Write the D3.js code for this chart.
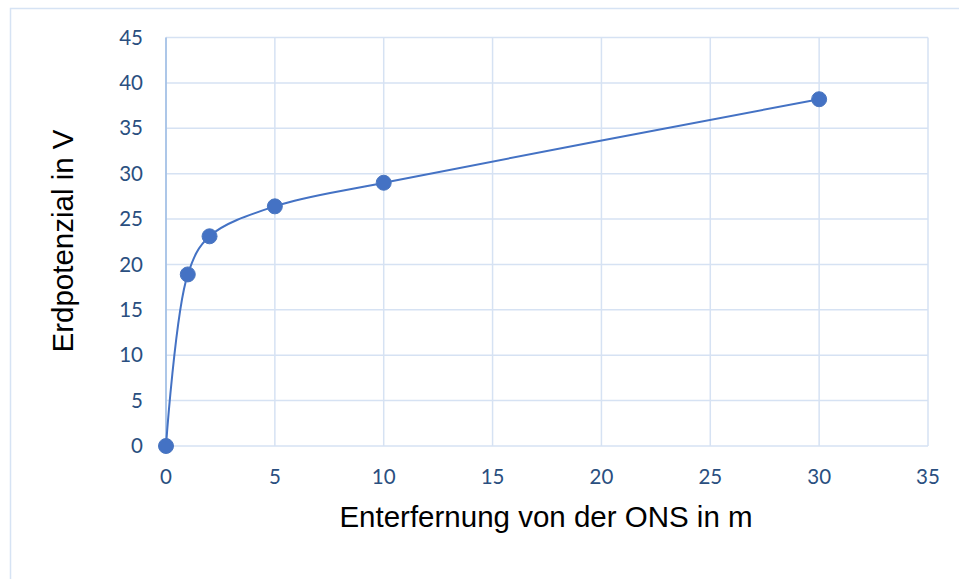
<!DOCTYPE html>
<html>
<head>
<meta charset="utf-8">
<script src="https://cdn.jsdelivr.net/npm/d3@7"></script>
<style>
  html, body { margin: 0; padding: 0; background: #fff; }
  svg { display: block; }
</style>
</head>
<body>
<svg id="chart" width="959" height="579"></svg>
<script>
// Erdpotenzial over distance from the ONS
const distances = [0, 1, 2, 5, 10, 30];
const potentials = [0, 18.9, 23.1, 26.4, 29.0, 38.2];
const xTicks = [0, 5, 10, 15, 20, 25, 30, 35];
const yTicks = [0, 5, 10, 15, 20, 25, 30, 35, 40, 45];
const xTitle = "Enterfernung von der ONS in m";
const yTitle = "Erdpotenzial in V";

const svg = d3.select("#chart");
const plotLeft = 166, plotRight = 928, plotTop = 37.5, plotBottom = 446;

const x = d3.scaleLinear().domain([0, 35]).range([plotLeft, plotRight]);
const y = d3.scaleLinear().domain([0, 45]).range([plotBottom, plotTop]);

// outer chart frame
svg.append("rect")
  .attr("x", 10.5).attr("y", 8.5)
  .attr("width", 1000).attr("height", 1000)
  .attr("fill", "none").attr("stroke", "#d6e3f4").attr("stroke-width", 1.5);

const gridColor = "#d6e2f3";

// horizontal grid
svg.append("g").selectAll("line").data(yTicks).join("line")
  .attr("x1", plotLeft).attr("x2", plotRight)
  .attr("y1", d => y(d)).attr("y2", d => y(d))
  .attr("stroke", gridColor).attr("stroke-width", 1.5);

// vertical grid
svg.append("g").selectAll("line").data(xTicks).join("line")
  .attr("x1", d => x(d)).attr("x2", d => x(d))
  .attr("y1", plotTop).attr("y2", plotBottom)
  .attr("stroke", gridColor).attr("stroke-width", 1.5);

// y axis line
svg.append("line")
  .attr("x1", plotLeft).attr("x2", plotLeft).attr("y1", plotTop).attr("y2", plotBottom)
  .attr("stroke", "#9dbbe3").attr("stroke-width", 1.5);

const tickFont = "Lato, 'Open Sans', sans-serif";
const tickColor = "#2a4f80";

// y tick labels
svg.append("g").selectAll("text").data(yTicks).join("text")
  .attr("x", 143).attr("y", d => y(d))
  .attr("dy", "0.35em")
  .attr("text-anchor", "end")
  .attr("font-family", tickFont).attr("font-size", 20.5)
  .attr("fill", tickColor)
  .text(d => d);

// x tick labels
svg.append("g").selectAll("text").data(xTicks).join("text")
  .attr("x", d => x(d)).attr("y", 484)
  .attr("text-anchor", "middle")
  .attr("font-family", tickFont).attr("font-size", 20.5)
  .attr("fill", tickColor)
  .text(d => d);

// axis titles
svg.append("text")
  .attr("x", 546).attr("y", 527)
  .attr("text-anchor", "middle")
  .attr("font-family", "'Liberation Sans', Arial, sans-serif")
  .attr("font-size", 29.5).attr("fill", "#000")
  .text(xTitle);

svg.append("text")
  .attr("transform", `translate(73, 241) rotate(-90)`)
  .attr("text-anchor", "middle")
  .attr("font-family", "'Liberation Sans', Arial, sans-serif")
  .attr("font-size", 29.5).attr("fill", "#000")
  .text(yTitle);

// series
const pts = distances.map((d, i) => [d, potentials[i]]);
const line = d3.line()
  .x(d => x(d[0])).y(d => y(d[1]))
  .curve(d3.curveCatmullRom.alpha(0.5));

svg.append("path")
  .attr("d", line(pts))
  .attr("fill", "none")
  .attr("stroke", "#4472c4").attr("stroke-width", 2);

svg.append("g").selectAll("circle").data(pts).join("circle")
  .attr("cx", d => x(d[0])).attr("cy", d => y(d[1]))
  .attr("r", 7.5)
  .attr("fill", "#4472c4")
  .attr("stroke", "#4a76c0").attr("stroke-width", 1);
</script>
</body>
</html>
